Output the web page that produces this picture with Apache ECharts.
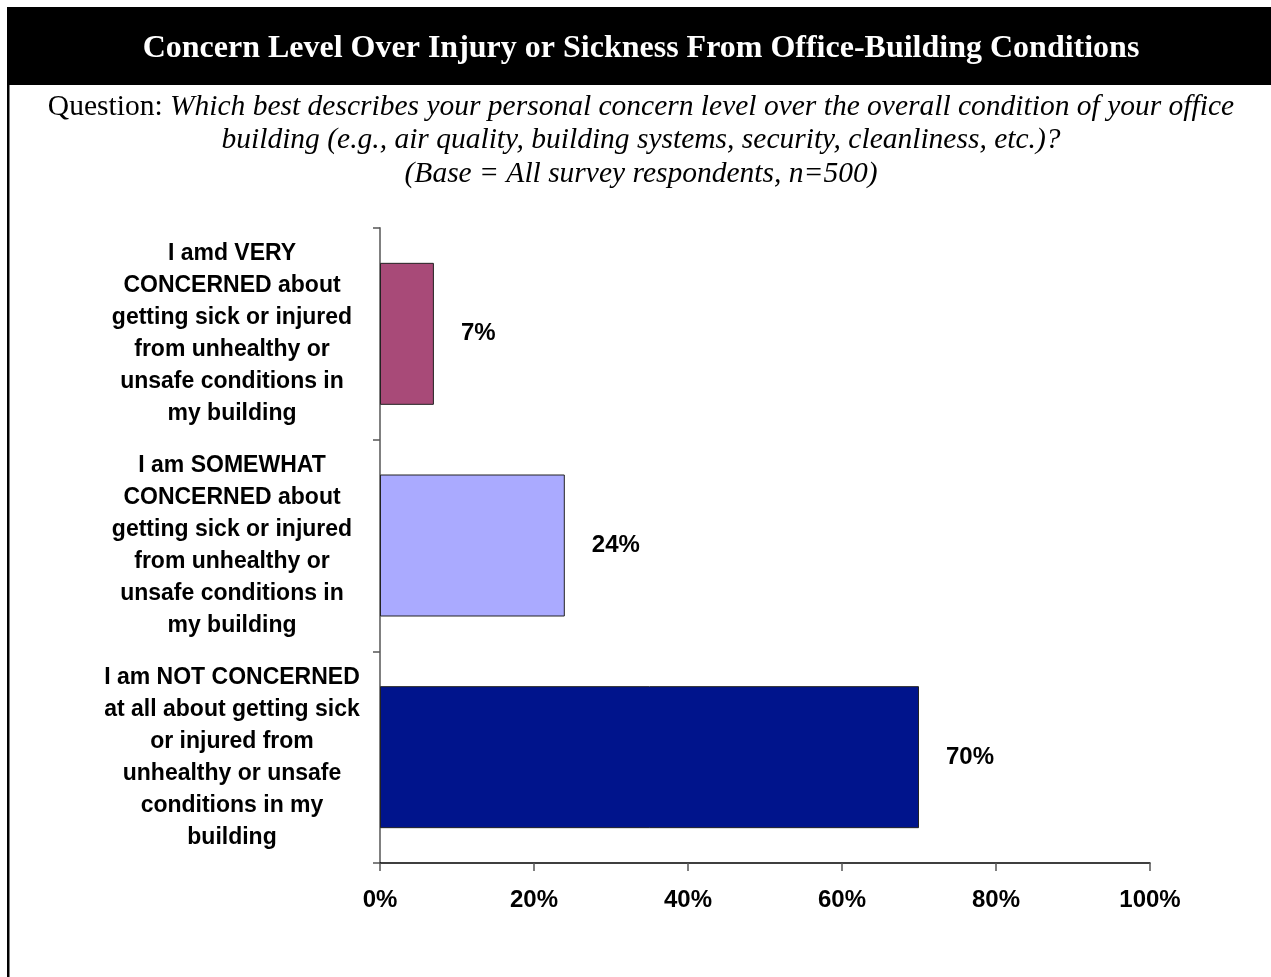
<!DOCTYPE html>
<html><head><meta charset="utf-8">
<script src="https://cdn.jsdelivr.net/npm/echarts@6/dist/echarts.min.js"></script>
<style>html,body{margin:0;padding:0;background:#fff}#c{width:1271px;height:977px}</style>
</head><body><div id="c"></div>
<script>
const titleText = 'Concern Level Over Injury or Sickness From Office-Building Conditions';
const questionLines = [
  'Which best describes your personal concern level over the overall condition of your office',
  'building (e.g., air quality, building systems, security, cleanliness, etc.)?',
  '(Base = All survey respondents, n=500)'
];
const categories = [
  'I amd VERY\nCONCERNED about\ngetting sick or injured\nfrom unhealthy or\nunsafe conditions in\nmy building',
  'I am SOMEWHAT\nCONCERNED about\ngetting sick or injured\nfrom unhealthy or\nunsafe conditions in\nmy building',
  'I am NOT CONCERNED\nat all about getting sick\nor injured from\nunhealthy or unsafe\nconditions in my\nbuilding'
];
const values = [7, 24, 70];
const barColors = ['#A84A78', '#AAAAFF', '#00148C'];
const xTicks = [0, 20, 40, 60, 80, 100];

const chart = echarts.init(document.getElementById('c'));
chart.setOption({
  animation: false,
  backgroundColor: '#fff',
  graphic: [
    {type: 'rect', shape: {x: 7, y: 7, width: 1264, height: 78}, style: {fill: '#000'}, z: 0},
    {type: 'rect', shape: {x: 7, y: 7, width: 2.5, height: 970}, style: {fill: '#000'}, z: 0}
  ],
  title: [
    {
      text: titleText, left: 636, top: 26, textAlign: 'center',
      textStyle: {color: '#fff', fontFamily: 'Liberation Serif', fontWeight: 'bold', fontSize: 32, lineHeight: 36}
    },
    {
      text: '{n|Question: }{i|' + questionLines[0] + '}\n{i|' + questionLines[1] + '}\n{i|' + questionLines[2] + '}',
      left: 636, top: 85, textAlign: 'center',
      textStyle: {
        fontFamily: 'Liberation Serif', fontSize: 29.5, fontWeight: 'normal', color: '#000', lineHeight: 33.5, align: 'center',
        rich: {
          n: {fontFamily: 'Liberation Serif', fontSize: 29.5, fontWeight: 'normal', color: '#000', lineHeight: 33.5},
          i: {fontFamily: 'Liberation Serif', fontSize: 29.5, fontWeight: 'normal', fontStyle: 'italic', color: '#000', lineHeight: 33.5}
        }
      }
    }
  ],
  grid: {left: 380, right: 121, top: 228, bottom: 114, containLabel: false},
  xAxis: {
    type: 'value', min: 0, max: 100, interval: 20,
    axisLine: {show: true, lineStyle: {color: '#000', width: 1.5}},
    axisTick: {show: true, length: 8, lineStyle: {color: '#555', width: 1.5}},
    splitLine: {show: false},
    axisLabel: {
      margin: 25, color: '#000', fontFamily: 'Liberation Sans', fontWeight: 'bold', fontSize: 24,
      formatter: v => xTicks.indexOf(v) >= 0 ? v + '%' : ''
    }
  },
  yAxis: {
    type: 'category', data: categories, inverse: true,
    axisLine: {show: true, lineStyle: {color: '#808080', width: 2}},
    axisTick: {show: true, length: 7, lineStyle: {color: '#555', width: 1.5}},
    axisLabel: {
      align: 'center', margin: 148, color: '#000', fontFamily: 'Liberation Sans',
      fontWeight: 'bold', fontSize: 23, lineHeight: 32
    }
  },
  series: [{
    type: 'bar', barWidth: 142,
    data: values.map((v, i) => ({value: v, itemStyle: {color: barColors[i]}})),
    itemStyle: {borderColor: '#222', borderWidth: 1},
    label: {
      show: true, position: 'right', distance: 27, formatter: '{c}%',
      color: '#000', fontFamily: 'Liberation Sans', fontWeight: 'bold', fontSize: 24
    }
  }]
});
</script></body></html>
